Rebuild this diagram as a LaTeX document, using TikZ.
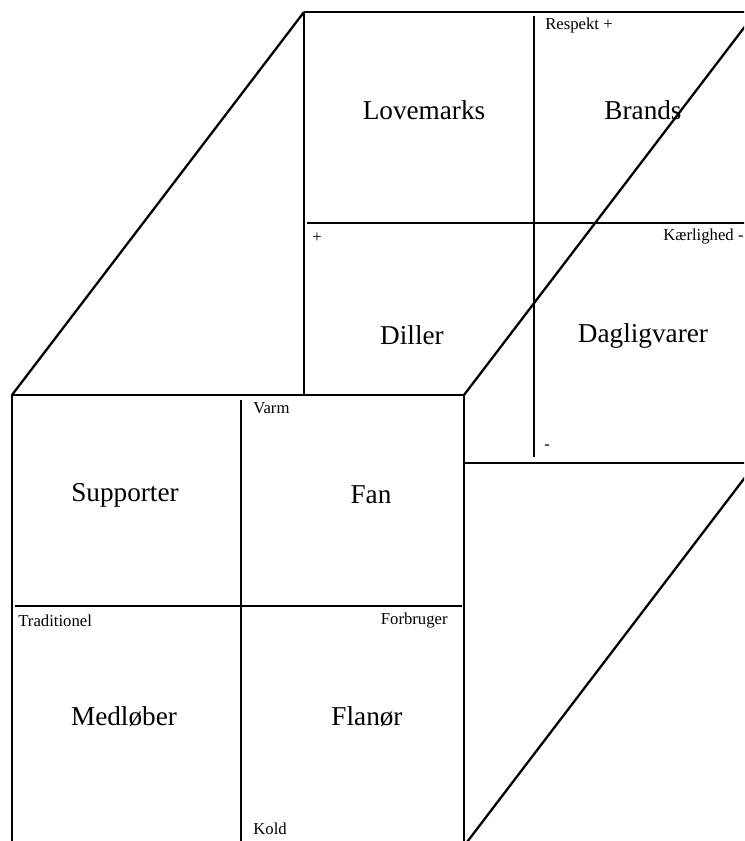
\documentclass[tikz,border=0pt]{standalone}
\usepackage{fontspec}
\setmainfont{Liberation Serif}
\usepackage{tikz}
\usetikzlibrary{positioning, calc}
\tikzset{
  edge line/.style={draw=black, line width=1.3pt},
  quadrant/.style={font=\fontsize{15.5}{18}\selectfont, inner sep=0pt},
  axislabel/.style={font=\fontsize{9.5}{11}\selectfont, inner sep=0pt},
}

\begin{document}
\begin{tikzpicture}[x=0.02cm, y=-0.02cm]
  \useasboundingbox (0,0) rectangle (744,841);
  \clip (0,0) rectangle (744,841);
  % corners of the front and the back square
  \coordinate (F0) at (12,395);
  \coordinate (F1) at (464,395);
  \coordinate (F2) at (464,846);
  \coordinate (F3) at (12,846);
  \coordinate (B0) at (304,12);
  \coordinate (B1) at (756,12);
  \coordinate (B2) at (756,463);
  \coordinate (B3) at (304,463);

  % back square
  \draw[edge line] (B0) -- (B1) -- (B2) -- (F1 |- B2);
  \draw[edge line] (B0) -- (B0 |- F0);
  \draw[edge line] (307,223) -- (756,223);
  \draw[edge line] (534,16) -- (534,457);

  % front square
  \draw[edge line] (F0) rectangle (F2);
  \draw[edge line] (15,606) -- (462,606);
  \draw[edge line] (241,400) -- (241,846);

  % depth lines
  \draw[edge line] (F0) -- (B0);
  \draw[edge line] (F1) -- (B1);
  \draw[edge line] (F2) -- (B2);

  % back quadrants
  \node[quadrant] (lovemarks) at (424,110) {Lovemarks};
  \node[quadrant] (brands) at (643,110) {Brands};
  \node[quadrant] (diller) at (412,335) {Diller};
  \node[quadrant] (dagligvarer) at (643,336) {Dagligvarer};
  \node[axislabel, anchor=west] (respekt) at (545,25) {Respekt +};
  \node[axislabel, anchor=west] (plus) at (312,238) {+};
  \node[axislabel, anchor=west] (kaerlighed) at (663,237) {Kærlighed -};
  \node[axislabel, anchor=west] (minus) at (544,447) {-};

  % front quadrants
  \node[quadrant] (supporter) at (125,495) {Supporter};
  \node[quadrant] (fan) at (371,495) {Fan};
  \node[quadrant] (medloeber) at (124,717) {Medløber};
  \node[quadrant] (flanoer) at (367,717) {Flanør};
  \node[axislabel, anchor=west] (varm) at (253,408) {Varm};
  \node[axislabel, anchor=west] (traditionel) at (18,621) {Traditionel};
  \node[axislabel, anchor=east] (forbruger) at (448,621) {Forbruger};
  \node[axislabel, anchor=west] (kold) at (253,829) {Kold};
\end{tikzpicture}
\end{document}
